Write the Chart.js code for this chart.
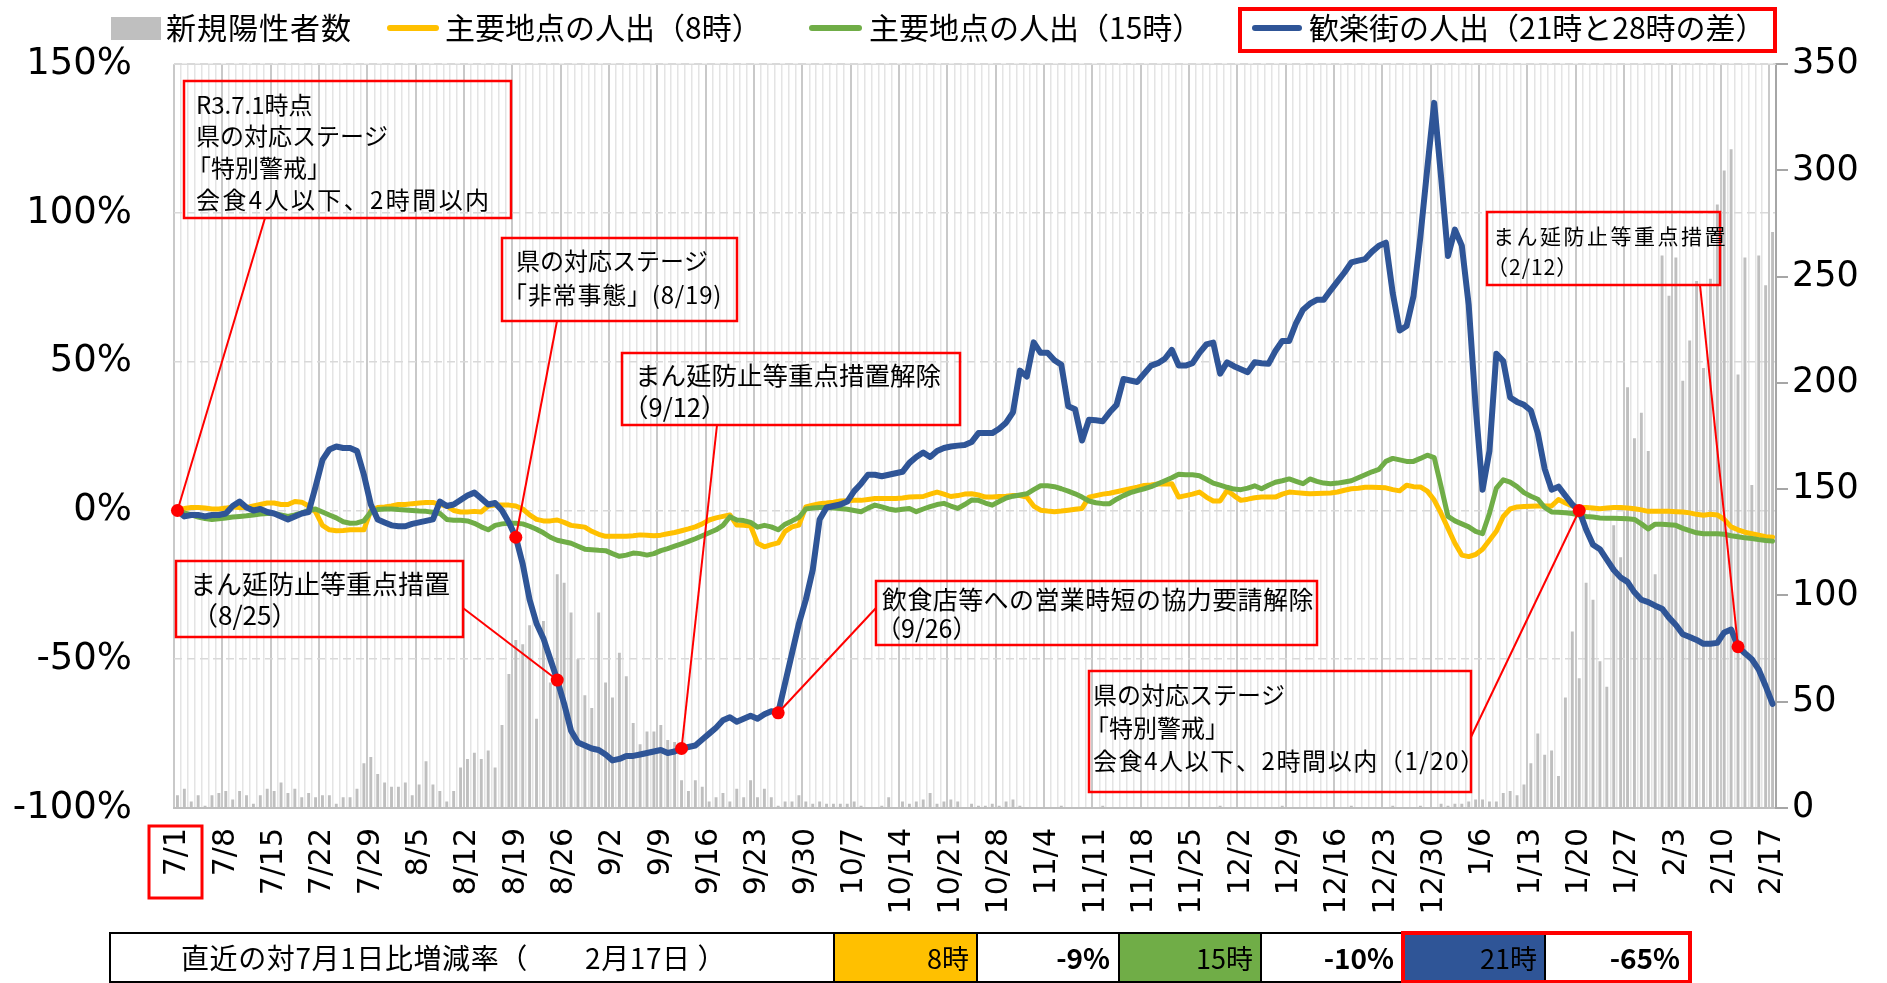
<!DOCTYPE html>
<html><head><meta charset="utf-8">
<script src="https://cdn.jsdelivr.net/npm/chart.js@4.4.1/dist/chart.umd.min.js"></script>
<style>html,body{margin:0;padding:0;background:#fff;}#wrap{position:relative;width:1887px;height:983px;}</style>
</head><body><div id="wrap"><canvas id="c"></canvas></div>
<script>
// ---- data ----
const monthLengths = [[7,31],[8,31],[9,30],[10,31],[11,30],[12,31],[1,31],[2,17]];
const dates = [];
monthLengths.forEach(([m, n]) => { for (let d = 1; d <= n; d++) dates.push(m + '/' + d); });

const tickLabels = ["7/1","7/8","7/15","7/22","7/29","8/5","8/12","8/19","8/26","9/2","9/9","9/16","9/23","9/30",
  "10/7","10/14","10/21","10/28","11/4","11/11","11/18","11/25","12/2","12/9","12/16","12/23","12/30",
  "1/6","1/13","1/20","1/27","2/3","2/10","2/17"];

const seriesNames = ["新規陽性者数","主要地点の人出（8時）","主要地点の人出（15時）","歓楽街の人出（21時と28時の差）"];

// new positive cases (right axis)
const cases = [
 6,9,3,6,1,6,7,8,4,8, 6,2,6,9,8,12,7,9,5,7, 5,6,6,2,5,5,9,21,24,16, 12,10,10,12,6,11,22,11,8,3,
 8,19,23,26,23,27,19,39,63,79, 77,86,42,88,59,110,106,92,70,53, 47,92,59,52,73,62,40,30,36,36,
 39,32,31,13,8,13,10,3,5,7, 3,9,5,13,5,9,5,1,3,3, 6,3,2,3,2,2,2,2,3,1,
 0,0,1,5,0,3,2,3,4,7, 2,3,4,3,0,2,1,1,2,1, 3,4,1,0,0,0,0,0,1,0,
 0,0,0,0,1,0,0,0,0,0, 0,0,0,0,0,0,0,0,0,0, 0,1,0,0,0,0,0,0,0,0,
 1,0,0,0,0,0,0,0,0,0, 1,0,0,0,0,0,1,0,0,0, 1,0,0,2,1,2,2,3,4,4,
 3,3,7,8,6,11,21,35,25,27, 15,52,83,61,106,98,69,57,133,118, 198,174,186,168,110,260,241,259,201,220,
 248,207,249,284,300,310,204,259,152,260, 246,271
];

// 主要地点の人出（8時）  %
const pct8 = [
 0.5,0.7,1,1,0.8,0.5,0.5,0.8,1.2,1, 1,1.5,2,2.5,2.5,2,2,3,2.8,1.5,
 -0.5,-5,-6.5,-6.8,-6.7,-6.5,-6.5,-6.5,0,1, 1.2,1.5,2,2,2.3,2.5,2.7,2.7,2,1.5,
 0,-0.5,-0.5,-0.3,-0.5,1.5,1.8,1.8,1.8,1.5, 0.5,-1.5,-3,-3.5,-3.5,-3.2,-4,-5,-5.3,-5.6,
 -7,-8,-8.7,-8.7,-8.7,-8.7,-8.5,-8.2,-8.3,-8.5, -8.3,-7.8,-7.4,-6.8,-6.2,-5.5,-4.5,-3.2,-2.5,-2,
 -1.5,-4.9,-5,-5.2,-11,-12.2,-11.5,-10.9,-7,-5.5, -4.9,1.2,1.8,2.3,2.5,2.8,3.2,3.3,3.4,3.4,
 3.7,4,4,4,4,4.2,4.5,4.6,4.7,5.5, 6.2,5.5,4.7,5,5.5,5.6,5.2,4.5,4.5,4.7,
 4.8,5,5,4.5,1.5,0.1,-0.2,-0.4,-0.2,0.1, 0.4,0.7,4.5,5,5.5,5.8,6.3,6.8,7.3,7.8,
 8.4,8.6,8.9,8.9,9,4.5,5,5.5,6.2,4.5, 3.2,3.2,6.7,5,3.4,3.8,4.3,4.5,4.5,4.5,
 5.5,6.2,6,5.8,5.6,5.7,5.8,5.9,6.2,6.8, 7.3,7.5,7.8,7.8,7.7,7.6,7,6.6,8.5,8,
 7.9,6.5,3.5,-1,-6,-11,-15,-15.5,-14.8,-13, -10,-7,-2,0.5,1.2,1.3,1.4,1.5,1.5,1.5,
 3.7,2.5,1.5,1,1,0.8,0.6,0.8,1,1, 0.8,0.6,0.2,-0.3,-0.3,-0.3,-0.3,-0.4,-0.5,-0.8,
 -1.3,-1.6,-1.3,-1.5,-3,-5.5,-6.5,-7.3,-7.8,-8.3, -8.8,-9
];

// 主要地点の人出（15時）  %
const pct15 = [
 0,-0.8,-1.5,-2.2,-2.7,-3,-2.8,-2.5,-2.2,-2, -1.8,-1.5,-1.2,-1,-1,-1.5,-2,-1.5,-0.8,0,
 0.5,-0.5,-1.5,-2.5,-3.8,-4.3,-4.2,-3.5,-0.5,0.3, 0.5,0.5,0.3,0.2,0,-0.2,-0.3,-0.6,-1,-3,
 -3.3,-3.3,-3.5,-4.3,-5.5,-6.5,-5,-4.5,-4.3,-4.3, -4.5,-5.3,-6.3,-7.5,-9,-10,-10.5,-11,-12,-13,
 -13.2,-13.4,-13.5,-14.5,-15.4,-15,-14.3,-14.5,-15,-14.5, -13.5,-12.8,-12,-11.2,-10.4,-9.5,-8.5,-7.5,-6.5,-5,
 -2.1,-3.2,-3.4,-4,-5.6,-5,-5.5,-6.5,-4.6,-3.5, -2.3,0.5,0.8,1,1,0.8,0.7,0.4,0,-0.4,
 0.8,1.8,1.2,0.5,0.1,0.4,0.7,-0.4,0.5,1.3, 2,2.4,1.5,0.7,2,3.5,3.4,2.5,1.8,3,
 4.2,4.8,5.2,5.6,7,8.3,8.3,8,7.3,6.5, 5.6,4.5,3.2,2.6,2.3,2.3,3.8,5,6,6.7,
 7.3,8,9,10,11,12.2,12,12,11.7,10.5, 9.2,8.5,7.8,7.2,7,7.5,8.3,7.3,8.5,9.5,
 10,10.6,9.8,9,10.6,9.8,9.2,9,9.2,9.6, 10,11,12,13,13.8,16.5,17.5,17,16.5,16.5,
 17.5,18.6,17.8,8,-2,-3.5,-4.5,-5.5,-7,-7.8, -1,7.5,10.3,9.5,8,6,4.8,3.8,1,-0.5,
 -0.6,-0.8,-1,-1.5,-2,-2.2,-2.5,-2.6,-2.6,-2.7, -2.8,-3,-4.5,-6.2,-4.6,-4.6,-4.8,-5,-6,-6.8,
 -7.5,-7.8,-7.8,-7.8,-8,-8.5,-8.8,-9.2,-9.4,-9.8, -10.1,-10.3
];

// 歓楽街の人出（21時と28時の差）  %
const pct21 = [
 0,-2,-1.5,-1.5,-2,-1.5,-1.5,-1,1.5,3, 1,0,0.5,-0.5,-1,-2,-3,-2,-1,-0.5,
 8,17,20.5,21.5,21,21,20,12,2,-3, -4,-5,-5.3,-5.3,-4.5,-4,-3.5,-3,3,1.5,
 2,3.5,5,6,4,2,2.5,0,-4,-9, -18,-30,-38,-43,-50,-57,-65,-74,-78,-79,
 -80,-80.5,-82,-84,-83.5,-82.5,-82.5,-82,-81.5,-81, -80.5,-81.5,-81,-80,-79.5,-79,-77,-75,-73,-70.5,
 -69.5,-71,-70,-69,-70,-68.5,-67.5,-68,-58,-48, -38,-30,-20,-3,1,1.5,2,3,6.5,9,
 12,12,11.5,12,12.5,13,16,18,19.5,18, 20,21,21.5,21.8,22,23,26,26,26,27.5,
 29.5,33,47,45,56.5,53,53,50.5,49,35, 34,23.5,30.5,30.3,30,33,35.5,44.2,43.7,43.2,
 46,48.7,49.5,51,54,48.7,48.7,49.5,53,55.8, 56.4,46,49.8,48.5,47.5,46.5,49.8,49.5,49.3,53.6,
 57,57,63,67.5,69.5,70.8,70.8,74,77,80, 83.4,84,84.5,87,89,90,73,60.5,62,72,
 92,115,137,112,85.5,94.4,89,69,35,7, 20,52.7,50.2,38,36.5,35.5,33.6,26,14,7,
 8,5,2,0,-6.4,-11.5,-13,-16.5,-20,-22.5, -24,-27.5,-30,-30.8,-32,-33,-36,-38.5,-41.6,-42.5,
 -43.5,-44.8,-44.8,-44.5,-41,-40,-45.8,-48,-50,-53.5, -59,-65
];

// annotation texts and the dates they point at
const noteTexts = [
  ["R3.7.1時点","県の対応ステージ","「特別警戒」","会食4人以下、2時間以内"],
  ["県の対応ステージ","「非常事態」(8/19)"],
  ["まん延防止等重点措置解除","（9/12）"],
  ["まん延防止等重点措置","（8/25）"],
  ["飲食店等への営業時短の協力要請解除","（9/26）"],
  ["県の対応ステージ","「特別警戒」","会食4人以下、2時間以内（1/20）"],
  ["まん延防止等重点措置","（2/12）"]
];
const noteDates = ["7/1","8/19","9/12","8/25","9/26","1/20","2/12"];

const tableLabel = "直近の対7月1日比増減率（　　2月17日 ）";
const tableHours = ["8時","15時","21時"];
const tableValues = ["-9%","-10%","-65%"];

// ---- styles / layout ----
const JP = '"Noto Sans CJK JP","Noto Sans CJK SC",sans-serif';
const C_CASES = '#bfbfbf', C8 = '#FFC000', C15 = '#70AD47', C21 = '#2F5597', RED = '#FF0000';
const noteLayout = [
  {box:[184,81,511,218], size:24, xs:[196,196,187,196], ys:[105,136,168,200], sp:[0,0,0,2.4], from:[265,218]},
  {box:[502,238,737,321], size:24, xs:[516,503], ys:[261,295], sp:[0,0.8], from:[557,321]},
  {box:[622,353,960,425], size:25.5, xs:[635,623], ys:[375,407], sp:[0,0], from:[717,425]},
  {box:[176,561,463,637], size:26, xs:[190,192], ys:[584,615], sp:[0,0], from:[463,608]},
  {box:[876,581,1317,645], size:25, xs:[882,876], ys:[599,628], sp:[0.4,0], from:[876,608]},
  {box:[1089,671,1471,792], size:24, xs:[1093,1085,1093], ys:[695,728,761], sp:[0,0,1.6], from:[1471,737]},
  {box:[1487,212,1720,285], size:21, xs:[1493,1487], ys:[236,267], sp:[2.5,1], from:[1700,285]}
];

const tickSet = new Set(tickLabels);

const overlay = {
  id: 'overlay',
  afterDatasetsDraw(chart) {
    const ctx = chart.ctx, xs = chart.scales.x, ys = chart.scales.y;
    ctx.save();
    ctx.strokeStyle = '#d9d9d9'; ctx.lineWidth = 1.5;
    ctx.beginPath(); ctx.moveTo(chart.chartArea.left, chart.chartArea.top); ctx.lineTo(chart.chartArea.right, chart.chartArea.top); ctx.stroke();
    noteLayout.forEach((n, k) => {
      const [x1,y1,x2,y2] = n.box;
      ctx.strokeStyle = RED; ctx.lineWidth = 2.5;
      ctx.strokeRect(x1, y1, x2-x1, y2-y1);
      ctx.fillStyle = '#000'; ctx.textBaseline = 'middle'; ctx.textAlign = 'left';
      ctx.font = n.size + 'px ' + JP;
      noteTexts[k].forEach((t, j) => {
        if ('letterSpacing' in ctx) ctx.letterSpacing = (n.sp[j] || 0) + 'px';
        ctx.fillText(t, n.xs[j], n.ys[j]);
      });
      if ('letterSpacing' in ctx) ctx.letterSpacing = '0px';
      const idx = dates.indexOf(noteDates[k]);
      const px = xs.getPixelForValue(idx), py = ys.getPixelForValue(pct21[idx]);
      ctx.strokeStyle = RED; ctx.lineWidth = 2;
      ctx.beginPath(); ctx.moveTo(n.from[0], n.from[1]); ctx.lineTo(px, py); ctx.stroke();
    });
    noteLayout.forEach((n, k) => {
      const idx = dates.indexOf(noteDates[k]);
      const px = xs.getPixelForValue(idx), py = ys.getPixelForValue(pct21[idx]);
      ctx.fillStyle = RED; ctx.beginPath(); ctx.arc(px, py, 6.5, 0, Math.PI*2); ctx.fill();
    });
    ctx.restore();
  },
  afterDraw(chart) {
    const ctx = chart.ctx;
    ctx.save();
    ctx.font = '30px ' + JP; ctx.textBaseline = 'middle'; ctx.textAlign = 'left'; ctx.fillStyle = '#000';
    const ly = 28;
    ctx.fillStyle = C_CASES; ctx.fillRect(111, 17, 50, 23);
    ctx.fillStyle = '#000';
    if ('letterSpacing' in ctx) ctx.letterSpacing = '1px';
    ctx.fillText(seriesNames[0], 166, ly);
    if ('letterSpacing' in ctx) ctx.letterSpacing = '0px';
    const legLine = (x1, x2, col) => { ctx.strokeStyle = col; ctx.lineWidth = 6; ctx.lineCap = 'round'; ctx.beginPath(); ctx.moveTo(x1, ly); ctx.lineTo(x2, ly); ctx.stroke(); };
    legLine(390, 436, C8); ctx.fillText(seriesNames[1], 445, ly);
    legLine(812, 859, C15); ctx.fillText(seriesNames[2], 869, ly);
    legLine(1255, 1299, C21); ctx.fillText(seriesNames[3], 1309, ly);
    ctx.strokeStyle = RED; ctx.lineWidth = 4; ctx.lineCap = 'butt';
    ctx.strokeRect(1240, 9, 535, 42);
    ctx.lineWidth = 3; ctx.strokeRect(149, 826, 53, 72);
    const T = 933, B = 982, cx = [110, 834, 977, 1119, 1261, 1403, 1545, 1690];
    ctx.fillStyle = C8; ctx.fillRect(cx[1], T, cx[2]-cx[1], B-T);
    ctx.fillStyle = C15; ctx.fillRect(cx[3], T, cx[4]-cx[3], B-T);
    ctx.fillStyle = C21; ctx.fillRect(cx[5], T, cx[6]-cx[5], B-T);
    ctx.strokeStyle = '#000'; ctx.lineWidth = 2;
    ctx.strokeRect(cx[0], T, cx[7]-cx[0], B-T);
    for (let i = 1; i < 7; i++) { ctx.beginPath(); ctx.moveTo(cx[i], T); ctx.lineTo(cx[i], B); ctx.stroke(); }
    ctx.strokeStyle = RED; ctx.lineWidth = 4; ctx.strokeRect(cx[5], T, cx[7]-cx[5], B-T);
    const my = (T + B) / 2 + 1;
    ctx.fillStyle = '#000'; ctx.font = '28px ' + JP; ctx.textAlign = 'left';
    if ('letterSpacing' in ctx) ctx.letterSpacing = '0.6px';
    ctx.fillText(tableLabel, 181, my);
    if ('letterSpacing' in ctx) ctx.letterSpacing = '0px';
    ctx.textAlign = 'right';
    const hx = [969, 1253, 1537], vx = [1110, 1394, 1680];
    for (let i = 0; i < 3; i++) {
      ctx.font = '27px ' + JP; ctx.fillText(tableHours[i], hx[i], my);
      ctx.font = 'bold 28px ' + JP; ctx.fillText(tableValues[i], vx[i], my);
    }
    ctx.restore();
  }
};

Chart.defaults.font.family = '"DejaVu Sans", Verdana, sans-serif';
Chart.defaults.color = '#000';

new Chart(document.getElementById('c'), {
  type: 'bar',
  data: {
    labels: dates,
    datasets: [
      {type:'line', label: seriesNames[3], data: pct21, yAxisID:'y', borderColor: C21, backgroundColor: C21, borderWidth: 6, pointRadius: 0, tension: 0, borderJoinStyle:'round', borderCapStyle:'round', order: 1},
      {type:'line', label: seriesNames[2], data: pct15, yAxisID:'y', borderColor: C15, backgroundColor: C15, borderWidth: 5, pointRadius: 0, tension: 0, borderJoinStyle:'round', borderCapStyle:'round', order: 2},
      {type:'line', label: seriesNames[1], data: pct8, yAxisID:'y', borderColor: C8, backgroundColor: C8, borderWidth: 5, pointRadius: 0, tension: 0, borderJoinStyle:'round', borderCapStyle:'round', order: 3},
      {type:'bar', label: seriesNames[0], data: cases, yAxisID:'y1', backgroundColor: C_CASES, barPercentage: 0.42, categoryPercentage: 1, order: 4}
    ]
  },
  options: {
    responsive: true, maintainAspectRatio: false, animation: false,
    layout: {padding: {top: 53, bottom: 50, left: 0, right: 0}},
    plugins: {legend: {display: false}, tooltip: {enabled: false}},
    scales: {
      x: {
        type: 'category', offset: true,
        grid: {offset: true, drawTicks: false,
          color: c => (c.index % 7 === 0 ? '#c9c9c9' : '#e4e4e4'),
          lineWidth: c => (c.index % 7 === 0 ? 2 : 1.5)},
        border: {display: true, color: '#bfbfbf', width: 2},
        ticks: {autoSkip: false, maxRotation: 90, minRotation: 90, padding: 20, color: '#000', font: {size: 30},
          callback: (v, i) => (tickSet.has(dates[i]) ? dates[i] : '')},
        afterFit: s => { s.height = 125; }
      },
      y: {
        position: 'left', min: -100, max: 150,
        ticks: {stepSize: 50, padding: 42, color: '#000', font: {size: 37}, callback: v => v + '%'},
        grid: {color: '#d9d9d9', lineWidth: 1.5, drawTicks: false},
        border: {display: false, dash: [8, 5]},
        afterFit: s => { s.width = 174; }
      },
      y1: {
        position: 'right', min: 0, max: 350,
        ticks: {stepSize: 50, padding: 4, color: '#000', font: {size: 35}},
        grid: {drawOnChartArea: false, drawTicks: true, tickLength: 12, color: '#a6a6a6', tickColor: '#a6a6a6', lineWidth: 2},
        border: {display: true, color: '#a6a6a6', width: 2},
        afterFit: s => { s.width = 111; }
      }
    }
  },
  plugins: [overlay]
});
</script>
</body></html>
